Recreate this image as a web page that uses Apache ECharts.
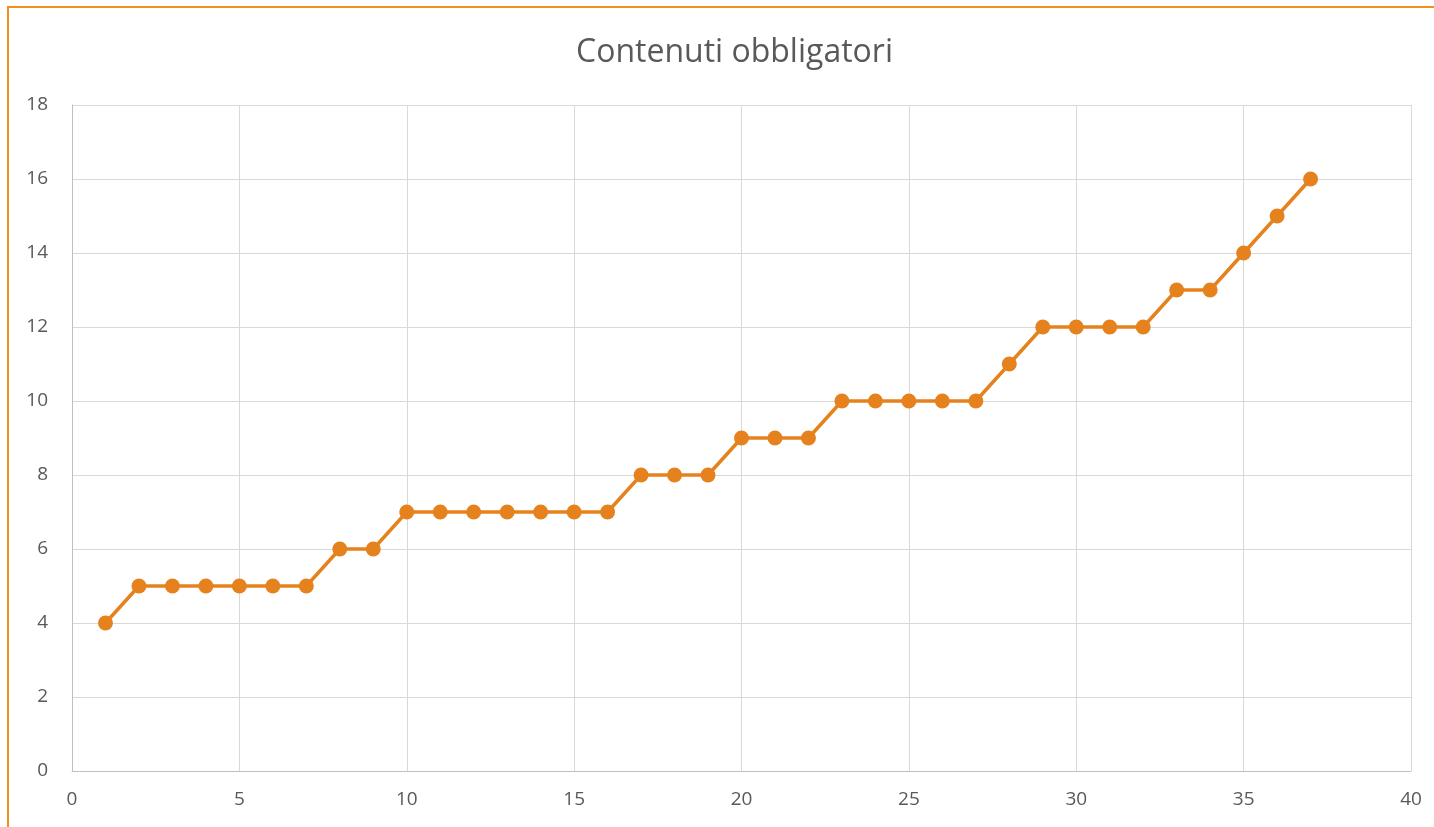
<!DOCTYPE html>
<html>
<head>
<meta charset="utf-8">
<script src="https://cdn.jsdelivr.net/npm/echarts@6/dist/echarts.min.js"></script>
<style>
html,body{margin:0;padding:0;background:#fff;}
#frame{position:absolute;left:7px;top:6px;width:1440px;height:840px;border-left:2px solid #F0901E;border-top:2px solid #F0901E;box-sizing:border-box;}
#chart{position:absolute;left:0;top:0;width:1434px;height:827px;}
</style>
</head>
<body>
<div id="frame"></div>
<div id="chart"></div>
<script>
const titleText = "Contenuti obbligatori";
const xValues = [1,2,3,4,5,6,7,8,9,10,11,12,13,14,15,16,17,18,19,20,21,22,23,24,25,26,27,28,29,30,31,32,33,34,35,36,37];
const yValues = [4,5,5,5,5,5,5,6,6,7,7,7,7,7,7,7,8,8,8,9,9,9,10,10,10,10,10,11,12,12,12,12,13,13,14,15,16];

const points = xValues.map((x, i) => [x, yValues[i]]);
const chart = echarts.init(document.getElementById('chart'), null, {renderer: 'canvas'});
const font = "'Open Sans', 'Noto Sans', sans-serif";
chart.setOption({
  backgroundColor: 'transparent',
  animation: false,
  title: {
    text: titleText, left: 571, top: 32,
    textStyle: {fontFamily: font, fontSize: 32, fontWeight: 'normal', color: '#595959'}
  },
  grid: {left: 72, right: 23, top: 105, bottom: 56, containLabel: false},
  xAxis: {
    type: 'value', min: 0, max: 40, interval: 5,
    axisLine: {show: true, lineStyle: {color: '#BFBFBF', width: 1}},
    axisTick: {show: false},
    splitLine: {show: true, lineStyle: {color: '#D9D9D9', width: 1}},
    axisLabel: {fontFamily: font, fontSize: 19, color: '#595959', margin: 19}
  },
  yAxis: {
    type: 'value', min: 0, max: 18, interval: 2,
    axisLine: {show: true, lineStyle: {color: '#BFBFBF', width: 1}},
    axisTick: {show: false},
    splitLine: {show: true, lineStyle: {color: '#D9D9D9', width: 1}},
    axisLabel: {fontFamily: font, fontSize: 19, color: '#595959', margin: 24}
  },
  series: [{
    type: 'line', data: points,
    symbol: 'circle', symbolSize: 15,
    lineStyle: {color: '#E6821E', width: 3.5},
    itemStyle: {color: '#E6821E'}
  }]
});
</script>
</body>
</html>
